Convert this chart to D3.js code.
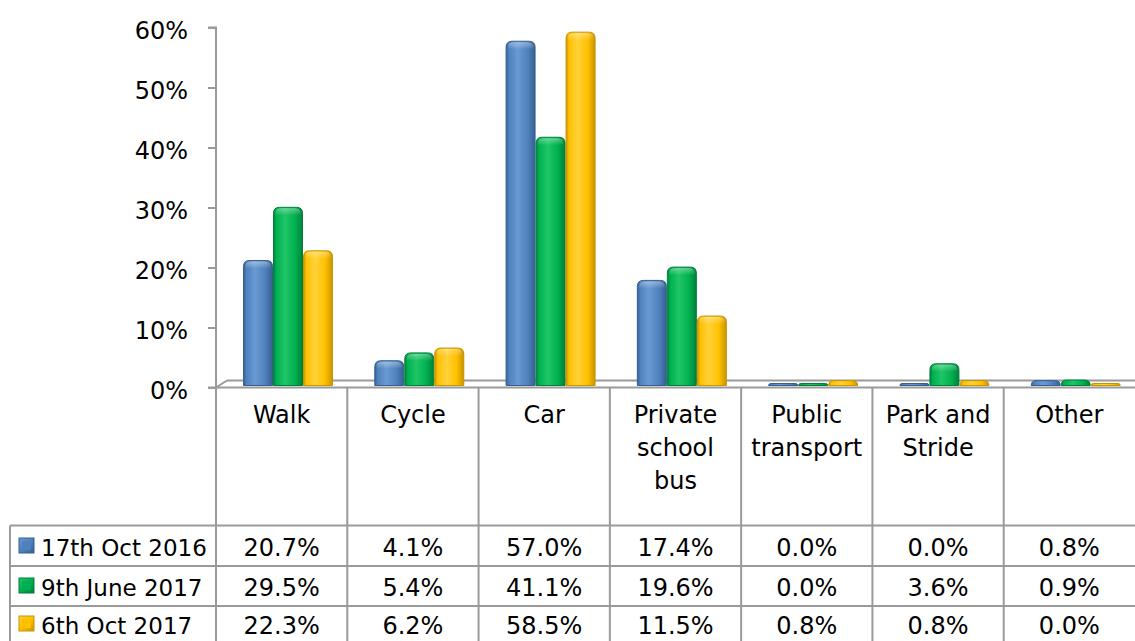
<!DOCTYPE html>
<html><head><meta charset="utf-8">
<script src="https://cdn.jsdelivr.net/npm/d3@7"></script>
<style>
body{margin:0;background:#fff;}
svg{display:block;}
text{font-family:"DejaVu Sans",sans-serif;fill:#000;}
</style>
</head><body><svg id="c" width="1135" height="641"></svg>
<script>
// ---- data ----
const categories = ["Walk","Cycle","Car","Private school bus","Public transport","Park and Stride","Other"];
const categoryLines = [["Walk"],["Cycle"],["Car"],["Private","school","bus"],["Public","transport"],["Park and","Stride"],["Other"]];
const seriesNames = ["17th Oct 2016","9th June 2017","6th Oct 2017"];
const oct2016 = [20.7,4.1,57.0,17.4,0.0,0.0,0.8];
const jun2017 = [29.5,5.4,41.1,19.6,0.0,3.6,0.9];
const oct2017 = [22.3,6.2,58.5,11.5,0.8,0.8,0.0];
const yTicks = [0,10,20,30,40,50,60];
const seriesColors = ["#4F81BD","#00B050","#FFC000"];
const seriesDark = ["#35608f","#00803a","#c89400"];
const seriesLight = ["#6a9ad3","#1fc566","#ffd23a"];

const seriesValues = [oct2016, jun2017, oct2017];

const svg = d3.select("#c");
const W = 1135, H = 641;
const plotLeft = 216, plotRight = 1135;
const gridColor = "#9a9a9a";
const FS = 24;

// scales
const x = d3.scaleBand().domain(categories).range([plotLeft, plotRight]).padding(0);
const xs = d3.scaleBand().domain(seriesNames).range([27, 117]).padding(0);
const yAxis = d3.scaleLinear().domain([0, 60]).range([387.5, 27.5]);
const yBar = d3.scaleLinear().domain([0, 60]).range([385.5, 385.5 - 6.04*60]);

// defs: gradients
const defs = svg.append("defs");
seriesNames.forEach((s,i)=>{
  const g = defs.append("linearGradient").attr("id","g"+i).attr("x1","0").attr("x2","1").attr("y1","0").attr("y2","0");
  g.append("stop").attr("offset","0").attr("stop-color",seriesDark[i]);
  g.append("stop").attr("offset","0.1").attr("stop-color",seriesColors[i]);
  g.append("stop").attr("offset","0.4").attr("stop-color",seriesLight[i]);
  g.append("stop").attr("offset","0.75").attr("stop-color",seriesColors[i]);
  g.append("stop").attr("offset","1").attr("stop-color",seriesDark[i]);
  const k = defs.append("linearGradient").attr("id","k"+i).attr("x1","0").attr("x2","1").attr("y1","0").attr("y2","1");
  k.append("stop").attr("offset","0").attr("stop-color",seriesLight[i]);
  k.append("stop").attr("offset","0.5").attr("stop-color",seriesColors[i]);
  k.append("stop").attr("offset","1").attr("stop-color",seriesDark[i]);
});
const cap = defs.append("linearGradient").attr("id","cap").attr("x1","0").attr("x2","0").attr("y1","0").attr("y2","1");
cap.append("stop").attr("offset","0").attr("stop-color","#fff").attr("stop-opacity",0.35);
cap.append("stop").attr("offset","1").attr("stop-color","#fff").attr("stop-opacity",0);

// ---- floor / axis ----
const axisG = svg.append("g");
axisG.append("line").attr("x1",plotLeft+11).attr("x2",plotRight).attr("y1",380.5).attr("y2",380.5)
  .attr("stroke",gridColor).attr("stroke-width",2);
axisG.append("line").attr("x1",plotLeft).attr("x2",plotLeft+11).attr("y1",387.5).attr("y2",380.5)
  .attr("stroke",gridColor).attr("stroke-width",2);

// y axis via d3
const ya = d3.axisLeft(yAxis).tickValues(yTicks).tickFormat(d=>d+"%").tickSize(8).tickPadding(20);
const yg = svg.append("g").attr("transform",`translate(${plotLeft},0)`).call(ya);
yg.select(".domain").attr("stroke",gridColor).attr("stroke-width",2).attr("d",`M-8,${yAxis(60)}H0V${H}`);
yg.selectAll(".tick line").attr("stroke",gridColor).attr("stroke-width",2);
yg.selectAll(".tick text").attr("font-size",FS).attr("dy","0.45em")
  .style("font-family",'"DejaVu Sans",sans-serif').attr("fill","#000");

// ---- bars ----
function barPath(x0, y0, w, h){
  const r = Math.min(6, h, w/2);
  return `M${x0},${y0+h}L${x0},${y0+r}Q${x0},${y0} ${x0+r},${y0}L${x0+w-r},${y0}Q${x0+w},${y0} ${x0+w},${y0+r}L${x0+w},${y0+h}Z`;
}
const barData = [];
categories.forEach((c,ci)=>{
  seriesNames.forEach((s,si)=>{
    barData.push({c, s, si, v: seriesValues[si][ci]});
  });
});
const bars = svg.append("g").selectAll("g").data(barData).join("g");
bars.append("path")
  .attr("d", d=>{
    const x0 = x(d.c)+xs(d.s)+0.5, w = xs.bandwidth()-1;
    const yt = Math.min(yBar(d.v), yBar(0)-2);
    return barPath(x0, yt, w, yBar(0)-yt);
  })
  .attr("fill", d=>`url(#g${d.si})`)
  .attr("stroke", d=>seriesDark[d.si]).attr("stroke-width",1);
bars.filter(d=>yBar(0)-yBar(d.v) > 8).append("path")
  .attr("d", d=>{
    const x0 = x(d.c)+xs(d.s)+2, w = xs.bandwidth()-4;
    const yt = yBar(d.v)+1;
    return barPath(x0, yt, w, 7);
  })
  .attr("fill","url(#cap)");

// ---- table ----
const tbl = svg.append("g");
const tableBottom = 650;
tbl.append("line").attr("x1",plotLeft-8).attr("x2",plotRight).attr("y1",387.5).attr("y2",387.5).attr("stroke",gridColor).attr("stroke-width",2);
[525.5,566,606].forEach(y=>{
  tbl.append("line").attr("x1",10).attr("x2",plotRight).attr("y1",y).attr("y2",y).attr("stroke",gridColor).attr("stroke-width",2);
});
categories.forEach((c,i)=>{
  if(i>0) tbl.append("line").attr("x1",x(c)).attr("x2",x(c)).attr("y1",387.5).attr("y2",tableBottom).attr("stroke",gridColor).attr("stroke-width",2);
});
tbl.append("line").attr("x1",10).attr("x2",10).attr("y1",525.5).attr("y2",tableBottom).attr("stroke",gridColor).attr("stroke-width",2);

// category labels
categories.forEach((c,i)=>{
  const cx = x(c)+x.bandwidth()/2;
  const t = tbl.append("text").attr("text-anchor","middle").attr("font-size",FS)
    .attr("x", cx).attr("y", 423);
  categoryLines[i].forEach((ln,j)=>{
    t.append("tspan").attr("x", cx).attr("dy", j===0?0:33).text(ln);
  });
});
// values + legend
const rowBaselines = [556, 596, 634];
seriesNames.forEach((s,si)=>{
  categories.forEach((c,ci)=>{
    tbl.append("text").attr("text-anchor","middle").attr("font-size",FS)
      .attr("x", x(c)+x.bandwidth()/2).attr("y", rowBaselines[si])
      .text(seriesValues[si][ci].toFixed(1)+"%");
  });
  const ky = rowBaselines[si]-10.5;
  tbl.append("rect").attr("x",19).attr("y",ky-7.5).attr("width",15).attr("height",15)
    .attr("fill",`url(#k${si})`).attr("stroke",seriesDark[si]).attr("stroke-width",1);
  tbl.append("rect").attr("x",22).attr("y",ky-4.5).attr("width",9).attr("height",9)
    .attr("fill",seriesColors[si]);
  tbl.append("text").attr("font-size",23).attr("x",41).attr("y",rowBaselines[si]).text(s);
});
</script>
</body></html>
